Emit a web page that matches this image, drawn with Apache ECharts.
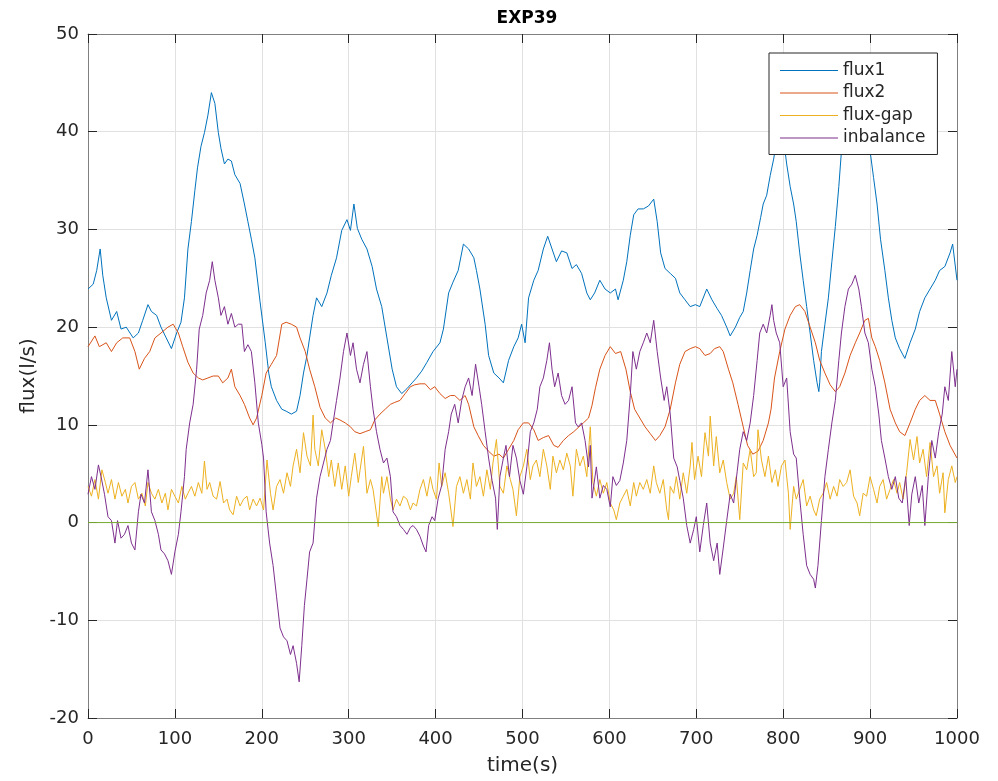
<!DOCTYPE html>
<html>
<head>
<meta charset="utf-8">
<script src="https://cdn.jsdelivr.net/npm/echarts@6/dist/echarts.min.js"></script>
<style>
html,body{margin:0;padding:0;background:#fff;}
#chart{width:998px;height:781px;}
</style>
</head>
<body>
<div id="chart"></div>
<script>
// ---- data (time in s, flux in l/s) ----
const seriesNames = ['flux1', 'flux2', 'flux-gap', 'inbalance'];
const xTicks = [0, 100, 200, 300, 400, 500, 600, 700, 800, 900, 1000];
const yTicks = [-20, -10, 0, 10, 20, 30, 40, 50];

const flux1 = [[0,23.9],[6,24.4],[10,25.8],[14,28],[17,25.3],[21,23],[27,20.7],[33,21.6],[38,19.8],[44,20],[52,18.9],[58,19.4],[63,20.7],[69,22.3],[73,21.6],[79,21.2],[84,20],[90,18.9],[96,17.8],[102,19.4],[107,20.5],[111,23],[115,28],[119,30.8],[123,34],[126,36.3],[130,38.5],[134,39.9],[138,41.7],[142,44],[146,42.9],[150,39.9],[153,38.3],[157,36.7],[161,37.2],[165,37],[169,35.6],[175,34.7],[180,32.6],[184,30.8],[188,29],[192,27.1],[198,22.6],[204,18.4],[208,15.3],[211,13.9],[217,12.5],[223,11.6],[228,11.4],[234,11.1],[240,11.4],[244,13],[248,15.3],[252,17.1],[255,18.9],[259,21.2],[263,23],[269,22.1],[275,23.5],[280,25.3],[286,27.1],[292,29.9],[298,31],[302,29.9],[306,32.6],[310,30.1],[315,29],[321,28],[327,26.2],[332,23.9],[338,22.1],[344,18.9],[350,15.7],[355,13.9],[361,13.2],[367,13.7],[373,14.3],[378,14.8],[384,15.5],[390,16.4],[397,17.5],[405,18.4],[409,19.8],[415,23.5],[420,24.6],[426,25.8],[432,28.5],[438,28],[444,27.1],[447,25.8],[451,23.9],[457,20.3],[461,17.1],[467,15.3],[473,14.8],[478,14.3],[484,16.6],[490,18],[495,18.9],[499,20.3],[503,18.4],[507,23],[513,24.8],[518,25.8],[524,28],[529,29.3],[534,28],[539,26.7],[545,27.8],[551,27.6],[557,26],[562,26.4],[568,25.5],[574,23.5],[578,22.8],[583,23.5],[589,24.8],[595,23.9],[601,23.5],[607,23.9],[610,22.8],[616,24.8],[620,26.7],[624,29.4],[628,31.5],[633,32.1],[639,32.1],[645,32.4],[651,33.1],[655,30.8],[659,27.6],[664,26],[670,25.5],[676,25],[681,23.5],[687,22.8],[693,22.1],[699,22.3],[704,22.1],[712,23.9],[718,22.8],[724,21.9],[729,21.2],[735,20],[739,19.1],[745,20],[750,21],[754,21.6],[758,23.5],[762,25.8],[766,28],[770,29.4],[774,31.2],[777,32.6],[781,33.5],[785,35.5],[789,37.2],[792,38.8],[796,40.5],[800,39.5],[804,36.7],[808,34.4],[812,32.6],[815,30.8],[819,27.6],[823,24.8],[827,22.1],[831,19.4],[835,16.6],[839,14.3],[841,13.4],[842,14.3],[844,17.5],[848,20.3],[852,23],[856,26.7],[860,30.3],[864,34.4],[867,38],[872,40.5],[878,42],[884,42.5],[890,42],[896,40.5],[900,38],[904,35.3],[908,32.6],[912,29],[917,25.8],[921,23],[925,20.7],[929,18.9],[934,17.8],[940,16.8],[946,18.4],[952,19.8],[957,21.6],[963,23],[969,23.9],[975,24.8],[980,25.8],[986,26.2],[992,27.6],[995,28.5],[1000,24.8]];

const flux2 = [[0,18],[8,19.1],[13,18],[21,18.4],[27,17.5],[33,18.4],[40,18.9],[48,18.9],[54,17.5],[59,15.7],[65,16.8],[71,17.5],[77,18.9],[84,19.4],[92,20],[98,20.3],[104,19.4],[109,18],[115,16.4],[121,15.3],[127,14.8],[132,14.6],[138,14.8],[144,15],[150,15],[155,14.3],[161,14.8],[165,15.7],[169,13.9],[175,13],[180,12.1],[186,10.7],[190,10],[194,10.7],[200,13],[205,15.3],[211,16.2],[217,17.1],[223,20.3],[228,20.5],[234,20.3],[240,20],[244,18.9],[250,17.5],[255,15.7],[261,13.9],[267,11.8],[273,10.7],[279,10.2],[285,10.7],[290,10.5],[296,10.2],[302,9.8],[307,9.3],[313,9.1],[319,9.3],[325,9.5],[330,10.5],[336,11.1],[342,11.6],[348,12.1],[353,12.3],[359,12.5],[365,13.2],[371,13.9],[376,14.1],[382,14.2],[388,14.2],[394,13.6],[399,13.9],[405,13.2],[411,12.7],[417,13],[422,13],[428,12.5],[434,13],[438,12.1],[444,9.8],[449,8.9],[455,7.9],[461,7.3],[467,6.8],[473,7],[478,6.6],[484,7.5],[490,8.4],[495,9.5],[501,10.2],[507,10.2],[513,9.5],[518,8.4],[524,8.7],[530,8.9],[536,7.9],[541,7.7],[547,8.4],[553,8.9],[559,9.3],[565,9.8],[570,10.2],[576,10.7],[580,12],[584,13.8],[589,15.7],[595,17.1],[601,18],[607,17.3],[613,17.5],[619,15.7],[624,13.4],[629,11.6],[635,10.7],[641,9.8],[647,9.1],[653,8.4],[658,8.9],[664,9.8],[670,11.6],[676,14.3],[681,16.2],[687,17.5],[693,17.8],[699,18],[704,17.8],[710,17.1],[716,17.3],[721,17.8],[727,18],[731,17.5],[737,15.7],[742,14.3],[748,12.1],[754,9.8],[759,7.9],[765,7],[771,7.3],[777,8.4],[783,10.2],[786,11.6],[790,14.8],[796,17.5],[802,19.8],[808,21.2],[814,22.1],[819,22.3],[825,21.6],[831,20],[837,18.4],[842,16.6],[848,15.3],[854,14.1],[860,13.4],[865,13.9],[871,15.3],[877,17.1],[883,18.4],[888,19.4],[894,20.7],[898,20.9],[902,18.9],[906,18],[911,16.6],[917,14.3],[923,11.6],[929,10.2],[934,9.3],[940,8.9],[946,10.2],[952,11.6],[957,12.5],[963,13],[969,12.5],[975,12.5],[980,11.1],[986,9.3],[992,7.9],[1000,6.6]];

const fluxGap = [[0,3.7],[4,2.7],[8,4.4],[12,2.4],[16,5.4],[20,4.1],[23,3.0],[27,4.4],[31,2.4],[35,4.1],[39,2.7],[43,3.4],[46,2.0],[50,3.7],[54,4.1],[58,2.4],[62,3.0],[66,1.7],[69,4.1],[73,3.0],[77,2.4],[81,3.4],[85,2.0],[89,3.0],[92,1.3],[96,3.4],[100,2.7],[104,2.0],[108,3.7],[112,2.4],[115,3.0],[119,3.7],[123,2.7],[127,4.1],[131,3.0],[134,6.3],[137,3.4],[140,4.1],[144,2.7],[148,2.4],[152,4.2],[156,2.0],[160,2.4],[163,1.3],[167,0.8],[171,2.7],[175,1.7],[179,2.4],[183,2.7],[186,1.3],[190,2.4],[194,1.7],[198,2.5],[202,1.3],[206,6.4],[210,3.0],[213,1.3],[217,3.7],[221,4.4],[225,3.0],[229,5.1],[233,3.7],[236,5.8],[240,7.5],[244,5.1],[248,9.2],[252,6.8],[256,5.8],[259,11.0],[261,7.5],[265,5.8],[269,9.5],[273,7.5],[277,4.7],[280,6.4],[284,3.7],[288,6.1],[292,3.4],[296,5.8],[300,2.7],[303,4.7],[307,7.1],[311,4.1],[317,7.8],[321,3.0],[325,4.4],[328,3.4],[334,-0.4],[338,4.7],
[340,3.0],[344,4.7],[348,2.4],[351,1.3],[355,2.4],[359,1.7],[363,2.7],[367,2.4],[371,1.3],[374,2.0],[378,1.7],[382,3.4],[386,4.4],[390,2.7],[394,4.7],[397,3.4],[401,2.4],[404,6.1],[407,3.7],[411,5.1],[415,3.0],[417,1.7],[420,-0.4],[424,3.7],[428,4.7],[432,3.0],[436,4.4],[440,2.4],[443,6.1],[447,3.7],[451,4.7],[455,2.7],[459,5.4],[463,3.4],[466,6.1],[470,8.5],[474,3.7],[478,3.0],[482,5.8],[486,4.4],[489,3.4],[493,0.7],[497,4.7],[501,5.8],[505,7.5],[509,4.4],[512,5.8],[516,6.4],[520,4.7],[524,7.5],[528,5.8],[532,3.4],[535,6.8],[539,5.1],[543,6.4],[547,5.4],[551,7.1],[555,5.8],[558,2.7],[562,7.5],[566,5.8],[570,6.8],[574,4.7],[578,9.8],[581,4.1],[585,2.7],[589,4.4],[593,3.0],[597,4.1],[601,2.0],[605,1.3],[608,0.3],[612,2.0],[616,2.7],[620,3.4],[624,1.7],[628,4.1],[631,2.7],[635,4.1],[639,3.4],[643,4.4],[647,3.0],[651,5.8],[654,4.1],[658,3.0],[662,4.4],[666,1.3],[668,0.3],
[670,3.7],[674,3.0],[677,4.7],[681,2.4],[685,5.1],[689,3.0],[693,5.8],[695,8.2],[698,4.4],[702,6.8],[706,4.7],[710,9.2],[714,6.8],[716,10.9],[720,5.8],[723,8.8],[727,5.1],[731,6.4],[735,4.1],[739,2.4],[743,3.0],[746,4.7],[750,0.3],[754,6.1],[758,5.4],[762,7.5],[766,4.7],[769,5.1],[771,9.5],[775,6.4],[779,4.7],[783,6.8],[787,4.1],[791,5.4],[794,3.7],[798,5.8],[802,6.4],[806,3.0],[808,-0.7],[812,3.7],[815,2.4],[819,3.4],[823,4.4],[827,1.7],[831,2.7],[835,1.3],[838,0.7],[842,2.4],[846,3.0],[850,4.1],[854,2.4],[858,3.7],[862,2.7],[865,4.4],[869,3.7],[873,4.1],[877,5.4],[881,2.7],[885,2.0],[888,0.7],[892,3.0],[896,2.7],[900,4.7],[904,3.4],[908,2.0],[911,3.7],[915,4.4],[919,2.4],[923,3.4],[927,4.4],[931,3.0],[934,4.1],[938,2.4],[942,5.1],[946,8.5],[950,6.4],[954,8.8],[957,6.1],[961,7.5],[965,4.7],[969,8.2],[973,4.7],[977,5.8],[980,3.0],[984,5.1],[986,1.0],[990,4.4],[994,5.8],[998,4.1],[1000,4.7]];

const inbalance = [[0,2.9],[4,4.7],[8,3.4],[12,5.9],[15,4.7],[19,2.9],[23,0.6],[27,0.2],[31,-2.1],[34,0.2],[38,-1.6],[42,-1.2],[46,-0.3],[50,-2.1],[54,-2.8],[58,1.1],[61,2.9],[65,2],[69,5.4],[73,1.1],[77,0.2],[81,-1.2],[84,-2.8],[88,-3.2],[92,-3.9],[96,-5.3],[100,-3],[104,-1.2],[107,1.1],[111,4.7],[113,7.5],[117,10.2],[121,12.1],[125,15.7],[128,19.8],[132,21.2],[136,23.5],[140,24.8],[143,26.7],[146,24.8],[150,23],[153,21.2],[157,22.1],[161,20.3],[165,21.4],[169,20],[173,20.3],[177,20.3],[180,17.5],[184,18.2],[188,17.5],[192,14.3],[196,10.2],[200,8],[202,6.6],[205,1.1],[209,-2.1],[213,-4.4],[217,-7.6],[221,-10.8],[225,-11.7],[229,-12.1],[233,-13.5],[236,-12.6],[240,-14.4],[243,-16.3],[246,-12.6],[249,-8.5],[252,-5.8],[255,-3],[259,-2.1],[263,2.5],[267,4.7],[271,6.1],[275,7.5],[279,8.4],[282,10.2],[286,12.5],[290,14.8],[294,17.5],[298,19.4],[302,17.1],[305,18.4],[309,15.7],[313,14.3],[317,16.2],[321,17.5],[325,13.9],[328,11.6],[332,9.3],[336,7.5],[340,6.1],[344,6.6],[348,4.7],[351,1.1],[355,0.6],[359,-0.3],[363,-0.7],[367,-1.2],[371,-0.5],[374,-0.3],[378,-0.7],[382,-1.4],[386,-2.4],[389,-3],[392,-0.3],[396,0.6],[399,0.2],[403,2.5],[407,3.8],[411,7.5],[415,9.3],[418,11.1],[422,12.1],[426,10.2],[430,12.5],[434,13.9],[438,14.8],[442,13],[446,16.2],[450,13.9],[453,12.1],[457,9.3],[461,6.6],[465,4.3],[469,2.5],[471,-0.7],[474,4.7],[478,6.6],[481,7.9],[485,4.7],[489,7.9],[493,6.6],[497,4.3],[501,2.9],[505,5.7],[509,9.3],[513,10.2],[517,11.6],[520,13.9],[524,14.8],[528,16.6],[531,18.4],[534,15.7],[537,13.9],[541,15.3],[545,13],[549,12.1],[553,12.5],[557,13.9],[561,10.2],[564,9.8],[568,10.2],[572,8.4],[576,5.7],[578,7.9],[580,2.5],[582,2.5],[585,5.7],[589,2.5],[593,3.8],[597,3.4],[601,1.6],[604,4.7],[608,3.8],[612,4.3],[616,6.1],[620,8.4],[624,13],[627,17.5],[631,15.7],[635,17.5],[639,18.4],[643,19.4],[647,18.4],[651,20.7],[655,17.5],[659,14.8],[663,12.5],[666,13.9],[670,11.1],[674,6.6],[678,5.7],[681,4.3],[685,2.5],[689,-0.3],[693,-2.1],[697,-0.7],[700,0.6],[704,-3],[708,-0.3],[712,2],[716,-2.1],[720,-3.9],[724,-2.1],[727,-5.3],[731,-2.6],[735,0.2],[739,2.9],[743,2],[747,5.2],[750,7.5],[754,9.3],[758,8.4],[762,10.2],[766,13],[770,16.6],[773,19.4],[777,20.3],[781,19.4],[785,21.2],[787,22.3],[789,20.7],[792,19.4],[796,18.4],[800,13.9],[804,14.8],[808,9.3],[812,7],[815,6.6],[819,2.5],[823,-1.2],[827,-4.4],[831,-5.3],[835,-5.8],[837,-6.7],[840,-4.4],[844,0.2],[848,4.7],[852,7.5],[856,10.2],[860,12.5],[864,16.6],[867,19.4],[871,22.1],[875,23.9],[879,24.4],[883,25.3],[887,23.9],[890,22.1],[894,19.4],[898,18.4],[902,15.7],[906,13.9],[910,11.1],[913,8.4],[917,6.6],[921,4.7],[925,3.4],[929,4.7],[933,2.5],[937,2],[941,4.7],[945,-0.3],[948,2.9],[952,4.7],[956,2],[960,3.8],[963,-0.3],[967,4.7],[971,8.4],[975,6.6],[979,9.3],[983,11.1],[986,13.9],[990,12.5],[994,17.5],[998,13.9],[1000,15.7]];

const zeroLine = [[0,0],[1000,0]];

// ---- styling ----
const FONT = 'DejaVu Sans';
const TXT = '#262626';
const AXIS = '#808080';
const colors = ['#0072BD', '#D95319', '#EDB120', '#7E2F8E', '#77AC30'];

const chart = echarts.init(document.getElementById('chart'), null, {renderer: 'canvas'});

function makeX(pos, show) {
  return {
    type: 'value', position: pos, min: xTicks[0], max: xTicks[xTicks.length - 1],
    interval: xTicks[1] - xTicks[0],
    axisLine: {show: true, onZero: false, lineStyle: {color: AXIS, width: 1}},
    axisTick: {show: true, inside: true, length: 9, lineStyle: {color: TXT, width: 1}},
    axisLabel: {show: show, color: TXT, fontFamily: FONT, fontSize: 18, margin: 12,
      formatter: function (v) { return String(v); }},
    splitLine: {show: show, lineStyle: {color: '#e1e1e1', width: 1}},
    name: show ? 'time(s)' : '', nameLocation: 'middle', nameGap: 38,
    nameTextStyle: {color: TXT, fontFamily: FONT, fontSize: 20}
  };
}
function makeY(pos, show) {
  return {
    type: 'value', position: pos, min: yTicks[0], max: yTicks[yTicks.length - 1],
    interval: yTicks[1] - yTicks[0],
    axisLine: {show: true, onZero: false, lineStyle: {color: AXIS, width: 1}},
    axisTick: {show: true, inside: true, length: 9, lineStyle: {color: TXT, width: 1}},
    axisLabel: {show: show, color: TXT, fontFamily: FONT, fontSize: 18, margin: 9,
      formatter: function (v) { return String(v); }},
    splitLine: {show: show, lineStyle: {color: '#e1e1e1', width: 1}},
    name: show ? 'flux(l/s)' : '', nameLocation: 'middle', nameGap: 45,
    nameTextStyle: {color: TXT, fontFamily: FONT, fontSize: 20}
  };
}

function lineSeries(name, data, color, z) {
  return {
    name: name, type: 'line', data: data, xAxisIndex: 0, yAxisIndex: 0,
    symbol: 'none', showSymbol: false, smooth: false, animation: false,
    lineStyle: {color: color, width: 1}, itemStyle: {color: color}, z: z
  };
}

const option = {
  animation: false,
  backgroundColor: '#ffffff',
  title: {
    text: 'EXP39', left: 522, top: 5, textAlign: 'center',
    textStyle: {fontFamily: FONT, fontSize: 17, fontWeight: 'bold', color: '#000'}
  },
  grid: {left: 88, right: 41, top: 34, bottom: 63, containLabel: false},
  xAxis: [makeX('bottom', true), makeX('top', false)],
  yAxis: [makeY('left', true), makeY('right', false)],
  legend: {
    data: seriesNames, orient: 'vertical', left: 769, top: 53,
    padding: [9, 12, 8, 11], itemGap: 5.5, itemWidth: 58, itemHeight: 1,
    icon: 'rect',
    backgroundColor: '#ffffff', borderColor: TXT, borderWidth: 1, borderRadius: 0,
    textStyle: {fontFamily: FONT, fontSize: 17, color: TXT, lineHeight: 17},
    selectedMode: false, z: 10
  },
  series: [
    lineSeries(seriesNames[0], flux1, colors[0], 2),
    lineSeries(seriesNames[1], flux2, colors[1], 2),
    lineSeries(seriesNames[2], fluxGap, colors[2], 2),
    lineSeries(seriesNames[3], inbalance, colors[3], 2),
    lineSeries('zero', zeroLine, colors[4], 2)
  ]
};
chart.setOption(option);
</script>
</body>
</html>
